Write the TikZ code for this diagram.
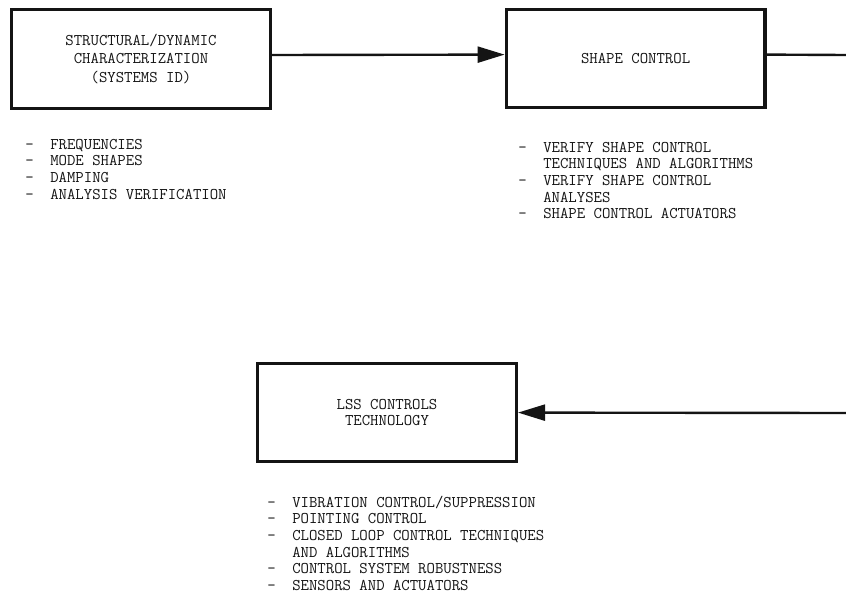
\documentclass[tikz,border=0pt]{standalone}
\usetikzlibrary{arrows.meta}
\definecolor{Ink}{HTML}{141414}
\definecolor{Paper}{HTML}{FFFFFF}

\begin{document}
\begin{tikzpicture}[every node/.style={font=\fontsize{11.6}{11.8}\selectfont\ttfamily,text=Ink},box/.style={draw=Ink,line width=2.3pt,minimum width=6.47cm,minimum height=2.46cm,align=center,inner sep=0pt},list/.style={anchor=north west,inner sep=0pt},line/.style={draw=Ink,line width=1.7pt},tip/.style={-{Triangle[length=0.675cm,width=0.4cm]}}]
\useasboundingbox[fill=Paper] (0,0) rectangle (21.15,14.825);
\node[box] (sysid) at (3.525,13.35) {STRUCTURAL/DYNAMIC\\[1.2pt]CHARACTERIZATION\\[1.2pt](SYSTEMS ID)};
\node[box] (shapectl) at (15.89,13.36) {SHAPE CONTROL};\node[box] (lssctl) at (9.675,4.51) {LSS CONTROLS\\TECHNOLOGY};
\coordinate (outA) at (21.15,13.45);\coordinate (outB) at (21.15,4.5);
\draw[line,tip] ([yshift=0.1cm]sysid.east)--([yshift=0.1cm]shapectl.west);\draw[line] ([yshift=0.1cm]shapectl.east)--(outA);\draw[line,tip] (outB)--(lssctl.east);
\node[list] (sysidlist) at (0.63,11.39) {\begin{tabular}{@{}p{0.62cm}@{}l@{}}-&FREQUENCIES\\-&MODE SHAPES\\-&DAMPING\\-&ANALYSIS VERIFICATION\end{tabular}};
\node[list] (shapelist) at (12.955,11.315) {\begin{tabular}{@{}p{0.62cm}@{}l@{}}-&VERIFY SHAPE CONTROL\\&TECHNIQUES AND ALGORITHMS\\-&VERIFY SHAPE CONTROL\\&ANALYSES\\-&SHAPE CONTROL ACTUATORS\end{tabular}};
\node[list] (lsslist) at (6.68,2.44) {\begin{tabular}{@{}p{0.62cm}@{}l@{}}-&VIBRATION CONTROL/SUPPRESSION\\-&POINTING CONTROL\\-&CLOSED LOOP CONTROL TECHNIQUES\\&AND ALGORITHMS\\-&CONTROL SYSTEM ROBUSTNESS\\-&SENSORS AND ACTUATORS\end{tabular}};
\end{tikzpicture}
\end{document}
